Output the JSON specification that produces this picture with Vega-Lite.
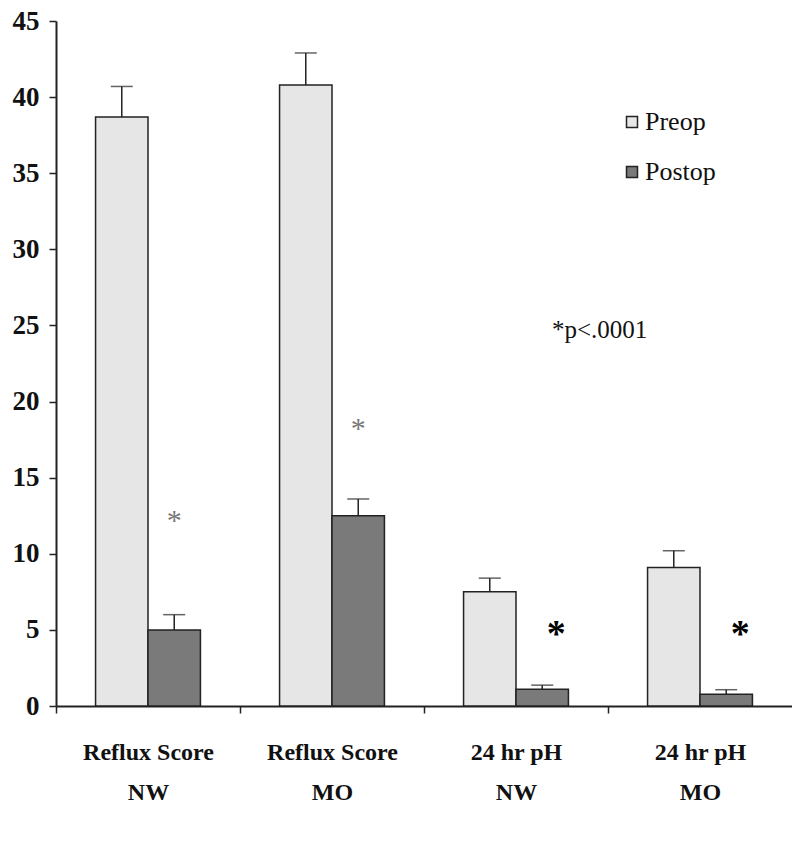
{
  "$schema": "https://vega.github.io/schema/vega-lite/v6.json",
  "width": 736,
  "height": 685,
  "autosize": {"type": "none"},
  "padding": {"left": 56, "top": 21, "right": 0, "bottom": 136},
  "background": "white",
  "config": {
    "view": {"stroke": null},
    "font": "Liberation Serif"
  },
  "datasets": {
    "bars": [
      {"group": "Reflux Score NW", "period": "Preop", "value": 38.7, "upper": 40.7},
      {"group": "Reflux Score NW", "period": "Postop", "value": 5.0, "upper": 6.0},
      {"group": "Reflux Score MO", "period": "Preop", "value": 40.8, "upper": 42.9},
      {"group": "Reflux Score MO", "period": "Postop", "value": 12.5, "upper": 13.6},
      {"group": "24 hr pH NW", "period": "Preop", "value": 7.5, "upper": 8.4},
      {"group": "24 hr pH NW", "period": "Postop", "value": 1.1, "upper": 1.37},
      {"group": "24 hr pH MO", "period": "Preop", "value": 9.1, "upper": 10.2},
      {"group": "24 hr pH MO", "period": "Postop", "value": 0.78, "upper": 1.07}
    ],
    "stars": [
      {"group": "Reflux Score NW", "period": "Postop", "measure": "Reflux Score", "y": 12.7, "label": "*"},
      {"group": "Reflux Score MO", "period": "Postop", "measure": "Reflux Score", "y": 18.7, "label": "*"},
      {"group": "24 hr pH NW", "period": "Postop", "measure": "24 hr pH", "y": 5.4, "label": "*"},
      {"group": "24 hr pH MO", "period": "Postop", "measure": "24 hr pH", "y": 5.4, "label": "*"}
    ],
    "note": [
      {"group": "24 hr pH NW", "y": 24.2, "label": "*p<.0001"}
    ]
  },
  "encoding": {
    "x": {
      "field": "group",
      "type": "nominal",
      "sort": ["Reflux Score NW", "Reflux Score MO", "24 hr pH NW", "24 hr pH MO"],
      "scale": {"paddingInner": 0.43, "paddingOuter": 0.215},
      "axis": {
        "title": null,
        "labelAngle": 0,
        "labelFont": "Liberation Serif",
        "labelFontWeight": "bold",
        "labelFontSize": 24,
        "labelColor": "#111",
        "labelLineHeight": 40,
        "labelPadding": 27,
        "labelExpr": "[slice(datum.label, 0, lastindexof(datum.label, ' ')), slice(datum.label, lastindexof(datum.label, ' ') + 1)]",
        "tickOffset": -92,
        "labelOffset": 92,
        "tickSize": 7,
        "tickColor": "#222",
        "tickWidth": 1.5,
        "domainColor": "#222",
        "domainWidth": 2
      }
    }
  },
  "layer": [
    {
      "data": {"name": "bars"},
      "mark": {"type": "bar", "stroke": "#222", "strokeWidth": 1.5},
      "encoding": {
        "xOffset": {"field": "period", "type": "nominal", "sort": ["Preop", "Postop"], "scale": {"paddingInner": 0}},
        "y": {
          "field": "value",
          "type": "quantitative",
          "scale": {"domain": [0, 45], "nice": false},
          "axis": {
            "title": null,
            "values": [0, 5, 10, 15, 20, 25, 30, 35, 40, 45],
            "grid": false,
            "labelFont": "Liberation Serif",
            "labelFontWeight": "bold",
            "labelFontSize": 27,
            "labelColor": "#111",
            "labelPadding": 10,
            "tickSize": 7,
            "tickColor": "#222",
            "tickWidth": 1.5,
            "domainColor": "#222",
            "domainWidth": 2
          }
        },
        "fill": {
          "field": "period",
          "type": "nominal",
          "sort": ["Preop", "Postop"],
          "scale": {"domain": ["Preop", "Postop"], "range": ["#e6e6e6", "#7a7a7a"]},
          "legend": {
            "title": null,
            "orient": "none",
            "legendX": 563,
            "legendY": 88,
            "padding": 0,
            "symbolType": "square",
            "symbolSize": 121,
            "symbolStrokeColor": "#222",
            "symbolStrokeWidth": 1.5,
            "labelFont": "Liberation Serif",
            "labelFontSize": 26,
            "labelColor": "#111",
            "labelOffset": 0,
            "rowPadding": 24
          }
        }
      }
    },
    {
      "data": {"name": "bars"},
      "mark": {"type": "rule", "color": "#222", "strokeWidth": 1.5},
      "encoding": {
        "xOffset": {"field": "period", "type": "nominal", "sort": ["Preop", "Postop"]},
        "y": {"field": "value", "type": "quantitative"},
        "y2": {"field": "upper"}
      }
    },
    {
      "data": {"name": "bars"},
      "mark": {"type": "tick", "color": "#222", "size": 22, "thickness": 1.5},
      "encoding": {
        "xOffset": {"field": "period", "type": "nominal", "sort": ["Preop", "Postop"]},
        "y": {"field": "upper", "type": "quantitative"}
      }
    },
    {
      "data": {"name": "stars"},
      "transform": [{"filter": "datum.measure == 'Reflux Score'"}],
      "mark": {"type": "text", "font": "Liberation Serif", "fontSize": 30, "color": "#777", "baseline": "middle", "dy": 8},
      "encoding": {
        "xOffset": {"field": "period", "type": "nominal", "sort": ["Preop", "Postop"]},
        "y": {"field": "y", "type": "quantitative"},
        "text": {"field": "label"}
      }
    },
    {
      "data": {"name": "stars"},
      "transform": [{"filter": "datum.measure == '24 hr pH'"}],
      "mark": {"type": "text", "font": "Liberation Serif", "fontSize": 38, "fontWeight": "bold", "color": "#000", "baseline": "middle", "dy": 11, "dx": 14},
      "encoding": {
        "xOffset": {"field": "period", "type": "nominal", "sort": ["Preop", "Postop"]},
        "y": {"field": "y", "type": "quantitative"},
        "text": {"field": "label"}
      }
    },
    {
      "data": {"name": "note"},
      "mark": {"type": "text", "font": "Liberation Serif", "fontSize": 25, "color": "#111", "align": "left", "baseline": "alphabetic", "dx": 36},
      "encoding": {
        "y": {"field": "y", "type": "quantitative"},
        "text": {"field": "label"}
      }
    }
  ]
}
